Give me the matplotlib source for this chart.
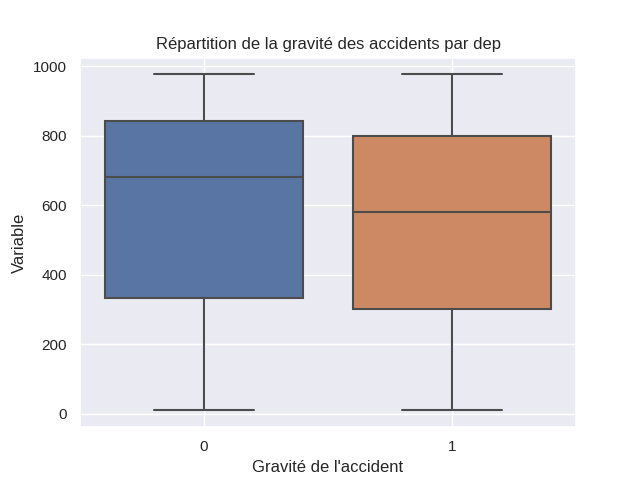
import colorsys
import matplotlib
matplotlib.use("Agg")
import matplotlib.pyplot as plt
import seaborn as sns

# valeurs (dep par gravité)
categories = ["0", "1"]
whislo = [10, 10]
q1 = [333, 302]
med = [682, 581]
q3 = [841, 800]
whishi = [976, 976]

sns.set_theme()
plt.rcParams['font.family'] = ['Liberation Sans', 'DejaVu Sans']

colors = [sns.desaturate(c, 0.75) for c in sns.color_palette("deep", 2)]
lum = min(colorsys.rgb_to_hls(*c)[1] for c in colors) * 0.6
gray = (lum, lum, lum)

stats = []
for i, lab in enumerate(categories):
    stats.append({"label": lab, "whislo": whislo[i], "q1": q1[i], "med": med[i],
                  "q3": q3[i], "whishi": whishi[i], "fliers": []})

fig, ax = plt.subplots(figsize=(6.4, 4.8), dpi=100)
lw = 1.5
bp = ax.bxp(stats, positions=[0, 1], widths=0.8, patch_artist=True,
            showfliers=False,
            boxprops=dict(edgecolor=gray, linewidth=lw),
            whiskerprops=dict(color=gray, linewidth=lw),
            capprops=dict(color=gray, linewidth=lw),
            medianprops=dict(color=gray, linewidth=lw),
            capwidths=0.4)
for patch, c in zip(bp["boxes"], colors):
    patch.set_facecolor(c)

ax.set_xlim(-0.5, 1.5)
rng = max(whishi) - min(whislo)
ax.set_ylim(min(whislo) - 0.05 * rng, max(whishi) + 0.05 * rng)
ax.set_xticks([0, 1])
ax.set_xticklabels(categories)
ax.set_title("Répartition de la gravité des accidents par dep")
ax.set_xlabel("Gravité de l'accident")
ax.set_ylabel("Variable")

fig.savefig("out.png", dpi=100)
